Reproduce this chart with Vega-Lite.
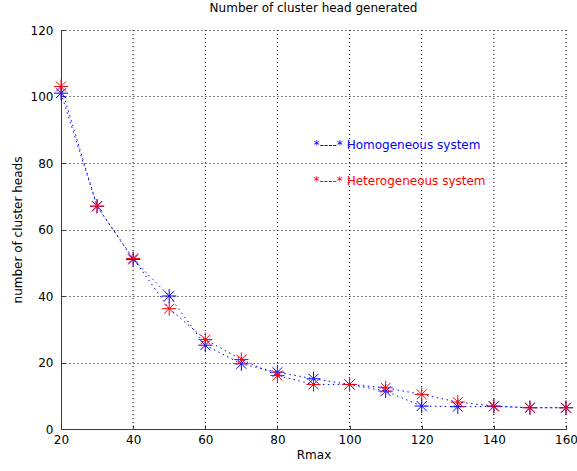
{
  "$schema": "https://vega.github.io/schema/vega-lite/v6.json",
  "autosize": {"type": "none"},
  "padding": {"left": 61, "top": 30, "right": 11, "bottom": 42},
  "width": 505,
  "height": 399,
  "background": "white",
  "title": {"text": "Number of cluster head generated", "fontWeight": "normal", "fontSize": 12, "font": "DejaVu Sans", "color": "#000", "offset": 9},
  "config": {
    "view": {"stroke": null},
    "axis": {
      "labelFont": "DejaVu Sans", "labelFontSize": 12, "labelColor": "#000",
      "titleFont": "DejaVu Sans", "titleFontSize": 12, "titleFontWeight": "normal", "titleColor": "#000",
      "domainColor": "#3c3c3c", "tickColor": "#3c3c3c", "tickSize": -4,
      "gridColor": "#000", "gridDash": [1, 3], "gridOpacity": 1, "gridWidth": 1
    }
  },
  "datasets": {
    "pts": [
      {"x": 20, "series": "Homogeneous", "value": 101},
      {"x": 30, "series": "Homogeneous", "value": 67},
      {"x": 40, "series": "Homogeneous", "value": 51},
      {"x": 50, "series": "Homogeneous", "value": 40},
      {"x": 60, "series": "Homogeneous", "value": 25.2},
      {"x": 70, "series": "Homogeneous", "value": 19.6},
      {"x": 80, "series": "Homogeneous", "value": 17.1},
      {"x": 90, "series": "Homogeneous", "value": 15.1},
      {"x": 100, "series": "Homogeneous", "value": 13.4},
      {"x": 110, "series": "Homogeneous", "value": 11.4},
      {"x": 120, "series": "Homogeneous", "value": 6.9},
      {"x": 130, "series": "Homogeneous", "value": 6.7},
      {"x": 140, "series": "Homogeneous", "value": 6.8},
      {"x": 150, "series": "Homogeneous", "value": 6.4},
      {"x": 160, "series": "Homogeneous", "value": 6.4},
      {"x": 20, "series": "Heterogeneous", "value": 103},
      {"x": 30, "series": "Heterogeneous", "value": 67},
      {"x": 40, "series": "Heterogeneous", "value": 51.3},
      {"x": 50, "series": "Heterogeneous", "value": 36.2},
      {"x": 60, "series": "Heterogeneous", "value": 26.9},
      {"x": 70, "series": "Heterogeneous", "value": 20.9},
      {"x": 80, "series": "Heterogeneous", "value": 16.1},
      {"x": 90, "series": "Heterogeneous", "value": 13.4},
      {"x": 100, "series": "Heterogeneous", "value": 13.4},
      {"x": 110, "series": "Heterogeneous", "value": 12.4},
      {"x": 120, "series": "Heterogeneous", "value": 10.4},
      {"x": 130, "series": "Heterogeneous", "value": 8.1},
      {"x": 140, "series": "Heterogeneous", "value": 6.9},
      {"x": 150, "series": "Heterogeneous", "value": 6.4},
      {"x": 160, "series": "Heterogeneous", "value": 6.4}
    ],
    "gridx": [
      {"x": 40}, {"x": 60}, {"x": 80}, {"x": 100}, {"x": 120}, {"x": 140}, {"x": 160}
    ],
    "notes": [
      {"x": 90, "value": 85.4, "series": "Homogeneous", "label": "*----* Homogeneous system"},
      {"x": 90, "value": 74.6, "series": "Heterogeneous", "label": "*----* Heterogeneous system"}
    ]
  },
  "layer": [
    {
      "data": {"name": "gridx"},
      "mark": {"type": "rule", "color": "#000", "strokeDash": [1, 3], "strokeWidth": 1},
      "encoding": {
        "x": {"field": "x", "type": "quantitative",
          "scale": {"domain": [20, 160], "nice": false, "zero": false},
          "axis": {"title": "Rmax", "values": [20, 40, 60, 80, 100, 120, 140, 160], "grid": false, "labelFlush": false, "labelPadding": 9, "titlePadding": 4}}
      }
    },
    {
      "data": {"name": "pts"},
      "mark": {"type": "line", "color": "#0000ff", "strokeDash": [1.5, 3.5], "strokeWidth": 1},
      "encoding": {
        "x": {"field": "x", "type": "quantitative"},
        "y": {"field": "value", "type": "quantitative",
          "scale": {"domain": [0, 120], "nice": false},
          "axis": {"title": "number of cluster heads", "values": [0, 20, 40, 60, 80, 100, 120], "grid": true, "labelPadding": 12, "titlePadding": 6}},
        "detail": {"field": "series"}
      }
    },
    {
      "data": {"name": "pts"},
      "transform": [{"filter": "datum.series === 'Homogeneous'"}],
      "mark": {"type": "point", "shape": "M-1,0L1,0M0,-1L0,1M-0.7,-0.7L0.7,0.7M-0.7,0.7L0.7,-0.7", "filled": false, "size": 200, "strokeWidth": 1, "opacity": 1},
      "encoding": {
        "x": {"field": "x", "type": "quantitative"},
        "y": {"field": "value", "type": "quantitative"},
        "color": {"field": "series", "type": "nominal", "scale": {"domain": ["Homogeneous", "Heterogeneous"], "range": ["#0000ff", "#ff0000"]}, "legend": null}
      }
    },
    {
      "data": {"name": "pts"},
      "transform": [{"filter": "datum.series === 'Heterogeneous'"}],
      "mark": {"type": "point", "shape": "M-1,0L1,0M0,-1L0,1M-0.7,-0.7L0.7,0.7M-0.7,0.7L0.7,-0.7", "filled": false, "size": 200, "strokeWidth": 1, "opacity": 1},
      "encoding": {
        "x": {"field": "x", "type": "quantitative"},
        "y": {"field": "value", "type": "quantitative"},
        "color": {"field": "series", "type": "nominal", "scale": {"domain": ["Homogeneous", "Heterogeneous"], "range": ["#0000ff", "#ff0000"]}, "legend": null}
      }
    },
    {
      "data": {"name": "notes"},
      "mark": {"type": "text", "align": "left", "baseline": "middle", "font": "DejaVu Sans", "fontSize": 12},
      "encoding": {
        "x": {"field": "x", "type": "quantitative"},
        "y": {"field": "value", "type": "quantitative"},
        "text": {"field": "label"},
        "color": {"field": "series", "type": "nominal", "scale": {"domain": ["Homogeneous", "Heterogeneous"], "range": ["#0000ff", "#ff0000"]}, "legend": null}
      }
    }
  ]
}
